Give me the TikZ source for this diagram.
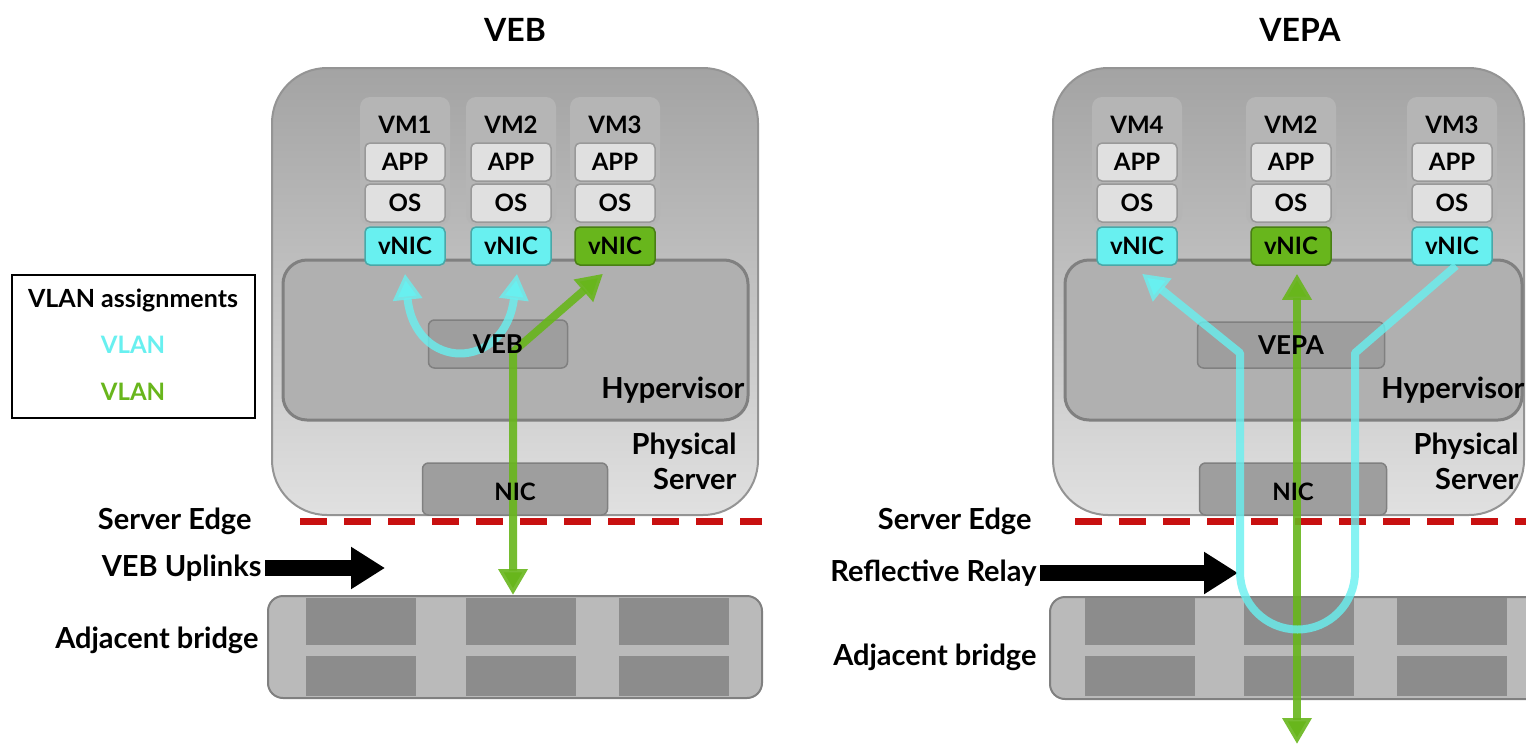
\documentclass[tikz,border=0pt]{standalone}
\usepackage{fontspec}
\setmainfont{Lato}
\usetikzlibrary{arrows.meta}
\definecolor{vlancyan}{RGB}{104,240,240}
\definecolor{vlangreen}{RGB}{104,182,28}
\definecolor{edgered}{RGB}{200,16,16}

\begin{document}
\begin{tikzpicture}[x=1pt, y=-1pt,
    lbl/.style={font=\fontsize{29}{35}\selectfont\bfseries},
    headline/.style={font=\fontsize{32}{34}\selectfont\bfseries},
    vmlbl/.style={font=\fontsize{24}{26}\selectfont\bfseries},
    serverbox/.style={draw=black!42, line width=2pt, rounded corners=55pt, top color=black!36, bottom color=black!12},
    hyperbox/.style={draw=black!50, line width=3pt, rounded corners=24pt, fill=black!31},
    vmcol/.style={fill=black!29, rounded corners=10pt, minimum width=90pt, minimum height=128pt, inner sep=0pt},
    vmlayer/.style={draw=black!40, line width=1.5pt, fill=black!12, rounded corners=5pt, minimum width=80pt, minimum height=38pt, inner sep=0pt, vmlbl},
    nicblue/.style={vmlayer, fill=vlancyan, draw=vlancyan!70!black},
    nicgreen/.style={vmlayer, fill=vlangreen, draw=vlangreen!70!black},
    swbox/.style={draw=black!50, line width=1.5pt, fill=black!38, rounded corners=6pt, inner sep=0pt},
    bridgebox/.style={draw=black!50, line width=2pt, fill=black!27, rounded corners=15pt, inner sep=0pt, minimum height=102pt},
    edgeline/.style={draw=edgered, line width=7pt, dash pattern=on 27pt off 17pt},
    greenway/.style={draw=vlangreen, line width=8pt, draw opacity=.9, line join=round},
    cyanway/.style={draw=vlancyan, line width=8pt, draw opacity=.8, line join=round},
    headtip/.style={-{Triangle[length=26pt,width=28pt]}},
    twoheads/.style={{Triangle[length=26pt,width=28pt]}-{Triangle[length=26pt,width=28pt]}},
    bigarrow/.style={line width=16pt, -{Triangle[length=34pt,width=40pt]}}
]
\path[use as bounding box, fill=white] (0,0) rectangle (1526,745);

% Titles
\node[headline] (vebtitle) at (515,30) {VEB};
\node[headline] (vepatitle) at (1300,30) {VEPA};

% Legend
\node[draw, line width=2pt, minimum width=243pt, minimum height=143pt, inner sep=0pt] (legend) at (133.5,346.5) {};
\node[font=\fontsize{25}{27}\selectfont\bfseries] (legtitle) at (133,300) {VLAN assignments};
\node[vmlbl, text=vlancyan] (legcyan) at (133,345) {VLAN};
\node[vmlbl, text=vlangreen] (leggreen) at (133,392) {VLAN};

% Physical servers
\draw[serverbox] (272,68) rectangle (758,515);
\draw[serverbox] (1053,68) rectangle (1524,515);
\draw[hyperbox] (283,260) rectangle (748,420);
\draw[hyperbox] (1065,260) rectangle (1522,420);

% VMs
\foreach \cx/\vm in {405/VM1, 511/VM2, 615/VM3, 1137/VM4, 1291/VM2, 1452/VM3} {
  \node[vmcol] (col\cx) at (\cx,161) {};
  \node[vmlbl] (vm\cx) at (\cx,125) {\vm};
  \node[vmlayer] (app\cx) at (\cx,162) {APP};
  \node[vmlayer] (os\cx) at (\cx,203) {OS};
}
\node[nicblue] (nic1) at (405,246) {vNIC};
\node[nicblue] (nic2) at (511,246) {vNIC};
\node[nicgreen] (nic3) at (615,246) {vNIC};
\node[nicblue] (nic4) at (1137,246) {vNIC};
\node[nicgreen] (nic5) at (1291,246) {vNIC};
\node[nicblue] (nic6) at (1452,246) {vNIC};

% Switching and NICs
\node[swbox, minimum width=139pt, minimum height=48pt] (vebbox) at (498,344) {};
\node[swbox, minimum width=185pt, minimum height=52pt] (nicL) at (515,489) {};
\node[swbox, minimum width=187pt, minimum height=46pt] (vepabox) at (1291,345) {};
\node[swbox, minimum width=187pt, minimum height=52pt] (nicR) at (1293,489) {};

\node[lbl, anchor=east] (hypL) at (748,390) {Hypervisor};
\node[lbl, anchor=east, align=right] (physL) at (740,461) {Physical\\Server};
\node[lbl, anchor=east] (hypR) at (1528,390) {Hypervisor};
\node[lbl, anchor=east, align=right] (physR) at (1522,461) {Physical\\Server};

% Adjacent bridges
\node[bridgebox, minimum width=494pt] (lbridge) at (515,647) {};
\node[bridgebox, minimum width=500pt] (rbridge) at (1300,648) {};
\foreach \px in {361,521,674,1140,1299,1452} {
  \fill[black!45] (\px-55,598) rectangle (\px+55,645);
  \fill[black!45] (\px-55,656) rectangle (\px+55,696);
}
\node[lbl, anchor=east] (adjL) at (262,640) {Adjacent bridge};
\node[lbl, anchor=east] (adjR) at (1040,657) {Adjacent bridge};

% Server edge
\draw[edgeline] (300,521) -- (762,521);
\draw[edgeline] (1075,521) -- (1526,521);
\node[lbl, anchor=east] (edgeL) at (255,521) {Server Edge};
\node[lbl, anchor=east] (edgeR) at (1035,521) {Server Edge};

% Uplinks
\node[lbl, anchor=east] (uplinks) at (265,568) {VEB Uplinks};
\coordinate (uplinktip) at (385,568);
\draw[bigarrow] (uplinks.east) -- (uplinktip);
\node[lbl, anchor=east] (relay) at (1040,573) {Reflective Relay};
\coordinate (relaytip) at (1238,573);
\draw[bigarrow] (relay.east) -- (relaytip);

% VEB traffic
\coordinate (vebjoin) at (513,352);
\draw[greenway, twoheads] ([xshift=-12pt,yshift=-8pt]nic3.south) -- (vebjoin) -- (vebjoin |- lbridge.north);
\draw[cyanway, twoheads] ([yshift=-8pt]nic1.south) .. controls (415,372) and (505,372) .. ([xshift=6pt,yshift=-8pt]nic2.south);

% VEPA traffic
\coordinate (relayout) at (1297,744);
\draw[greenway, twoheads] ([xshift=6pt,yshift=-8pt]nic5.south) -- (relayout);
\draw[cyanway, headtip] ([xshift=4pt]nic6.south) -- (1355,353) -- (1355,572)
  arc[start angle=0, end angle=180, radius=57.5] -- (1240,353) -- ([xshift=5pt,yshift=-8pt]nic4.south);

% Box labels
\node[font=\fontsize{26}{28}\selectfont\bfseries] at (vebbox) {VEB};
\node[font=\fontsize{26}{28}\selectfont\bfseries] at (vepabox) {VEPA};
\node[vmlbl] at ([yshift=-3pt]nicL) {NIC};
\node[vmlbl] at ([yshift=-3pt]nicR) {NIC};
\end{tikzpicture}
\end{document}
